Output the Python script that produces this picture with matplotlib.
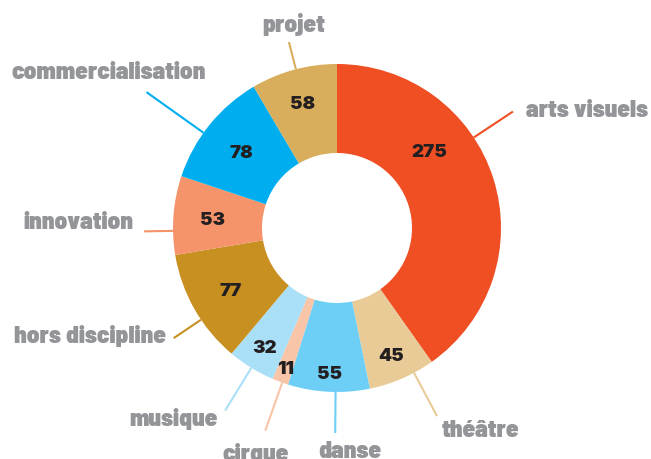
import numpy as np
import matplotlib
matplotlib.use("Agg")
import matplotlib.pyplot as plt

# ---------------- data ----------------
categories = ["arts visuels", "théâtre", "danse", "cirque", "musique",
              "hors discipline", "innovation", "commercialisation", "projet"]
values = [275, 45, 55, 11, 32, 77, 53, 78, 58]
colors = ["#F04E23", "#E9CB97", "#6DCFF6", "#F8C5A8", "#AADFF8",
          "#C88F21", "#F5936A", "#00AEEF", "#D8AD5B"]

# ---------------- layout (pixels, figure 651x459) ----------------
W, H = 651, 459
CX, CY = 337, H - 228          # donut centre (y measured upward)
R_OUT, R_IN = 164, 75

# leader lines: clockwise angle from top (deg) and end radius (px)
line_angle = [56.5, 152.0, 180.5, 199.5, 211.5, 236.0, 269.0, 305.5, 345.5]
line_end_r = [211, 213, 205, 215, 214, 197, 193, 234, 192]
# category labels: anchor x, baseline y (pixels from top), alignment
label_x = [526, 481, 350, 256, 173, 166, 133, 109, 294]
label_base = [117, 437, 458, 461, 426, 343, 229, 79, 32]
label_ha = ["left", "center", "center", "center", "center",
            "right", "right", "center", "center"]
# value labels: clockwise angle (None = wedge middle) and radius (px)
val_angle = [49.7, None, None, None, None, None, None, None, None]
val_r = [121, 137, 144, 148, 138, 122, 125, 123, 131]

GRAY = "#939598"
DARK = "#231F20"
LABEL_FONT = dict(family=["Barlow Semi Condensed", "DejaVu Sans"], fontweight=900)
VALUE_FONT = dict(family=["Inter", "Roboto", "DejaVu Sans"], fontweight=900)

fig = plt.figure(figsize=(W / 100, H / 100), dpi=100)
ax = fig.add_axes([0, 0, 1, 1])

wedges, _ = ax.pie(values, colors=colors, startangle=90, counterclock=False,
                   radius=R_OUT, center=(CX, CY),
                   wedgeprops=dict(width=R_OUT - R_IN, linewidth=0,
                                   edgecolor="none"))
ax.set_xlim(0, W)
ax.set_ylim(0, H)
ax.set_aspect("auto")
ax.axis("off")

# size the label font so that the longest label spans ~195 px like the reference
renderer = fig.canvas.get_renderer()
probe = fig.text(0, 0, "commercialisation", fontsize=20, **LABEL_FONT)
pw = probe.get_window_extent(renderer).width
probe.remove()
label_size = 20 * 195.0 / pw


def polar(clock_deg, r):
    t = np.deg2rad(90 - clock_deg)
    return CX + r * np.cos(t), CY + r * np.sin(t)


for i, name in enumerate(categories):
    col = colors[i]
    x0, y0 = polar(line_angle[i], R_OUT)
    x1, y1 = polar(line_angle[i], line_end_r[i])
    ax.plot([x0, x1], [y0, y1], color=col, lw=1.5, solid_capstyle="butt",
            zorder=1)
    ax.text(label_x[i], H - label_base[i], name, ha=label_ha[i],
            va="baseline", color=GRAY, fontsize=label_size, **LABEL_FONT)

    w = wedges[i]
    mid_math = (w.theta1 + w.theta2) / 2.0
    ang = val_angle[i] if val_angle[i] is not None else 90 - mid_math
    vx, vy = polar(ang, val_r[i])
    ax.text(vx, vy - 7, str(values[i]), ha="center", va="baseline",
            color=DARK, fontsize=13.5, **VALUE_FONT)

fig.savefig("out.png", dpi=100)
